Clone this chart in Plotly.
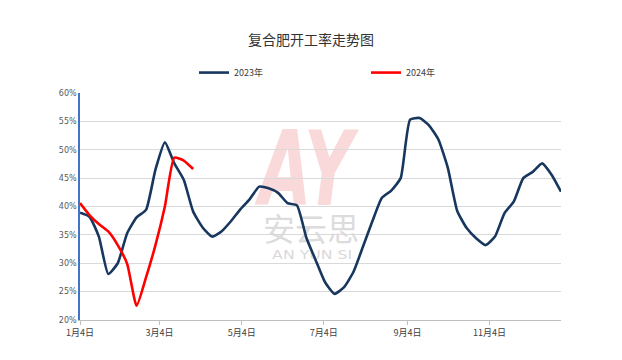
import plotly.graph_objects as go
import datetime as dt
import base64

start = dt.date(2023, 1, 4)
rate_2023 = [38.9, 38.2, 34.7, 28.1, 30.0, 35.3, 38.1, 39.4, 46.5, 51.3,
             47.6, 44.7, 39.1, 36.3, 34.7, 35.6, 37.4, 39.5, 41.3, 43.5,
             43.2, 42.4, 40.6, 40.2, 34.5, 30.5, 26.6, 24.6, 25.8, 28.5,
             32.9, 37.4, 41.5, 42.8, 45.0, 55.3, 55.6, 54.3, 51.8, 46.8,
             39.2, 36.2, 34.4, 33.2, 34.7, 38.8, 40.9, 45.0, 46.1, 47.6,
             45.6, 42.6]
rate_2024 = [40.6, 38.5, 36.9, 35.6, 33.2, 29.9, 22.5, 27.5, 33.2, 40.0,
             48.6, 48.1, 46.6]
dates = [(start + dt.timedelta(days=7 * i)).isoformat() for i in range(len(rate_2023))]

tick_dates = ["2023-01-04", "2023-03-04", "2023-05-04", "2023-07-04", "2023-09-04", "2023-11-04"]
tick_text = ["1月4日", "3月4日", "5月4日", "7月4日", "9月4日", "11月4日"]
y_ticks = [20, 25, 30, 35, 40, 45, 50, 55, 60]
y_tick_text = [f"{v}%" for v in y_ticks]

fig = go.Figure()
fig.add_trace(go.Scatter(x=dates, y=rate_2023, name="2023年", mode="lines",
                         line=dict(color="#17375e", width=2.6, shape="spline", smoothing=0.5)))
fig.add_trace(go.Scatter(x=dates[:len(rate_2024)], y=rate_2024, name="2024年", mode="lines",
                         line=dict(color="#ff0000", width=2.6, shape="spline", smoothing=0.5)))

font_family = "Noto Sans CJK SC, Noto Sans, sans-serif"
fig.update_layout(
    width=622, height=360,
    margin=dict(l=80, r=61, t=93, b=40),
    paper_bgcolor="white", plot_bgcolor="rgba(0,0,0,0)",
    title=dict(text="复合肥开工率走势图", x=0.5, xanchor="center", y=0.89, yanchor="middle",
               font=dict(family=font_family, size=14, color="#333333")),
    legend=dict(orientation="h", x=0.237, xanchor="left", y=1.09, yanchor="middle",
                font=dict(family=font_family, size=9, color="#404040"),
                itemwidth=30, tracegroupgap=0, entrywidth=127),
    showlegend=True,
    xaxis=dict(type="date", range=["2023-01-04", "2023-12-27"],
               tickvals=tick_dates, ticktext=tick_text, ticks="outside", ticklen=4,
               tickcolor="#bfbfbf", showgrid=False, showline=True, linecolor="#bfbfbf",
               linewidth=1, tickfont=dict(family=font_family, size=9, color="#404040")),
    yaxis=dict(range=[20, 60], tickvals=y_ticks, ticktext=y_tick_text, showgrid=True,
               gridcolor="#d9d9d9", gridwidth=1, showline=True, linecolor="#4472c4",
               linewidth=1.5, zeroline=False,
               tickfont=dict(family="DejaVu Sans, sans-serif", size=8, color="#595959")),
)

# watermark drawn beneath the data
svg = (
    "<svg xmlns='http://www.w3.org/2000/svg' width='120' height='150' viewBox='0 0 120 150'>"
    "<text x='56' y='85' font-family='DejaVu Sans' font-weight='bold' font-style='italic' "
    "font-size='104' fill='#f0a0a0' fill-opacity='0.4' text-anchor='middle' "
    "textLength='94' lengthAdjust='spacingAndGlyphs'>AY</text>"
    "<text x='61' y='121' font-family='Noto Sans CJK SC' font-size='32' fill='#c8c8c8' "
    "fill-opacity='0.65' text-anchor='middle'>安云思</text>"
    "<text x='62' y='139' font-family='DejaVu Sans' font-size='12' fill='#c8c8c8' "
    "fill-opacity='0.7' text-anchor='middle' textLength='80' lengthAdjust='spacingAndGlyphs'>AN YUN SI</text>"
    "</svg>"
)
uri = "data:image/svg+xml;base64," + base64.b64encode(svg.encode("utf-8")).decode("ascii")
fig.add_layout_image(dict(source=uri, xref="paper", yref="paper",
                          x=(250 - 80) / 480.7, y=(320 - 120) / 226.7,
                          sizex=120 / 480.7, sizey=150 / 226.7,
                          xanchor="left", yanchor="top", sizing="stretch", layer="below"))

fig.write_html("out.html")
